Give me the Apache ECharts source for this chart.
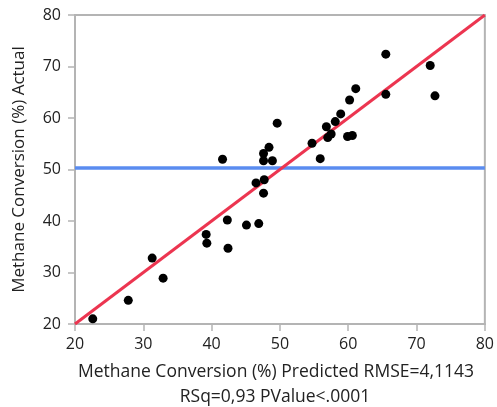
<!DOCTYPE html>
<html>
<head>
<meta charset="utf-8">
<script src="https://cdn.jsdelivr.net/npm/echarts@6/dist/echarts.min.js"></script>
<style>
  html, body { margin: 0; padding: 0; background: #fff; }
  #main { width: 497px; height: 407px; }
</style>
</head>
<body>
<div id="main"></div>
<script>
// predicted (x) vs actual (y)
var predicted = [22.6, 27.8, 31.3, 32.9, 39.2, 39.3, 42.3, 42.4, 45.1, 46.9,
	47.6, 41.6, 49.6, 48.4, 47.6, 47.6, 48.9, 46.5, 47.7, 54.7,
	55.9, 56.8, 57.0, 57.5, 58.1, 58.9, 59.9, 60.6, 60.2, 61.1,
	65.5, 65.5, 72.0, 72.7];
var actual = [21.0, 24.6, 32.8, 28.9, 37.4, 35.7, 40.2, 34.7, 39.2, 39.5,
	45.4, 52.0, 59.0, 54.3, 53.1, 51.7, 51.7, 47.4, 48.0, 55.1,
	52.1, 58.3, 56.2, 56.9, 59.3, 60.8, 56.4, 56.6, 63.5, 65.7,
	72.4, 64.6, 70.2, 64.3];
var fitLine = [[20, 20], [80, 80]];
var meanLine = [[20, 50.3], [80, 50.3]];
var axisTicks = [20, 30, 40, 50, 60, 70, 80];

var xTitle1 = "Methane Conversion (%) Predicted RMSE=4,1143";
var xTitle2 = "RSq=0,93 PValue<.0001";
var yTitle = "Methane Conversion (%) Actual";

var points = [];
for (var i = 0; i < predicted.length; i++) {
	points.push([predicted[i], actual[i]]);
}

var FONT = "Open Sans";
var GRAY = "#b4b4b4";
var TXT = "#222";

var axisCommon = {
	type: 'value',
	min: axisTicks[0],
	max: axisTicks[axisTicks.length - 1],
	interval: 10,
	axisLine: { show: true, lineStyle: { color: GRAY, width: 2 } },
	axisTick: { show: true, length: 7, lineStyle: { color: GRAY, width: 1.5 } },
	splitLine: { show: false }
};

var myChart = echarts.init(document.getElementById("main"));
myChart.setOption({
	animation: false,
	grid: {
		left: 75,
		right: 11,
		top: 15,
		bottom: 83,
		show: true,
		borderColor: GRAY,
		borderWidth: 2
	},
	xAxis: Object.assign({}, axisCommon, {
		axisLabel: { color: TXT, fontSize: 16, fontFamily: FONT, margin: 12 }
	}),
	yAxis: Object.assign({}, axisCommon, {
		name: yTitle,
		nameLocation: 'middle',
		nameGap: 47,
		nameTextStyle: { color: TXT, fontSize: 17, fontFamily: FONT },
		axisLabel: { color: TXT, fontSize: 16, fontFamily: FONT, margin: 14 }
	}),
	// x title: two lines, centred a little left of the plot centre
	graphic: [
		{
			type: 'text',
			x: 276,
			y: 372,
			style: {
				text: xTitle1,
				align: 'center',
				verticalAlign: 'middle',
				fill: TXT,
				font: "17.5px '" + FONT + "'"
			}
		},
		{
			type: 'text',
			x: 275,
			y: 397,
			style: {
				text: xTitle2,
				align: 'center',
				verticalAlign: 'middle',
				fill: TXT,
				font: "17.5px '" + FONT + "'"
			}
		}
	],
	series: [
		{
			type: 'line',
			data: meanLine,
			symbol: 'none',
			lineStyle: { color: '#5a8cf0', width: 3.5 },
			z: 2
		},
		{
			type: 'line',
			data: fitLine,
			symbol: 'none',
			lineStyle: { color: '#ec3550', width: 3 },
			z: 3
		},
		{
			type: 'scatter',
			data: points,
			symbolSize: 9,
			itemStyle: { color: '#000', opacity: 1 },
			z: 4
		}
	]
});
</script>
</body>
</html>
